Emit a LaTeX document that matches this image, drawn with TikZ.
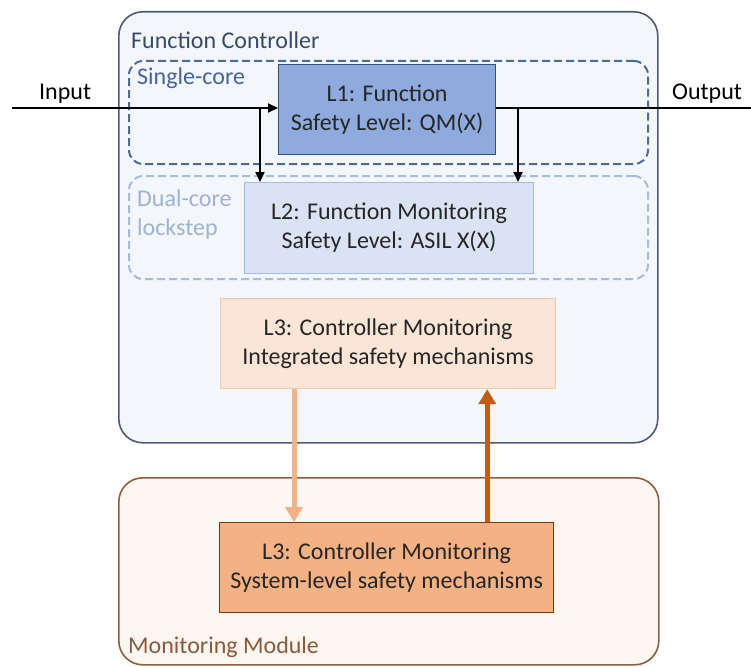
\documentclass[tikz,border=0pt]{standalone}
\usepackage{fontspec}
\setmainfont{Carlito}
\usetikzlibrary{arrows.meta,positioning}

\definecolor{fcfill}{HTML}{F3F6FB}
\definecolor{fcline}{HTML}{4F5B6E}
\definecolor{fctext}{HTML}{3A4A66}
\definecolor{singleline}{HTML}{4E6B98}
\definecolor{singletext}{HTML}{46659A}
\definecolor{dualline}{HTML}{A8BCDA}
\definecolor{dualtext}{HTML}{9DB3D6}
\definecolor{lonefill}{HTML}{8FAADC}
\definecolor{loneline}{HTML}{2F4F80}
\definecolor{ltwofill}{HTML}{DAE3F3}
\definecolor{ltwoline}{HTML}{A4BBE0}
\definecolor{lintfill}{HTML}{FBE5D6}
\definecolor{lintline}{HTML}{F6C9A8}
\definecolor{lsysfill}{HTML}{F4B183}
\definecolor{lsysline}{HTML}{7A3A10}
\definecolor{mmfill}{HTML}{FEF6F0}
\definecolor{mmline}{HTML}{8C5E42}
\definecolor{mmtext}{HTML}{8B5A3C}
\definecolor{lightorange}{HTML}{F4B183}
\definecolor{darkorange}{HTML}{C55A11}
\definecolor{textdark}{HTML}{262626}

\begin{document}
\begin{tikzpicture}[
		x=1pt, y=-1pt,
		container/.style={draw, rounded corners=24pt, line width=1.6pt, anchor=north west, inner sep=0pt},
		corebox/.style={draw, dash pattern=on 8pt off 4pt, rounded corners=14pt, line width=2pt, anchor=north west, inner sep=0pt},
		layer/.style={draw, align=center, line width=1.2pt, text=textdark, anchor=north west, inner sep=0pt, font=\fontsize{24}{29}\selectfont},
		tag/.style={anchor=north west, align=left, inner sep=0pt, font=\fontsize{24}{29}\selectfont},
		wire/.style={line width=2.2pt},
		arrow/.style={wire, -{Triangle[length=10pt, width=9pt]}},
		fatarrow/.style={-{Triangle[length=15pt, width=17pt]}, line width=5pt}
	]
		\useasboundingbox (0,0) rectangle (751,666);
		% containers
		\node[container, fill=fcfill, draw=fcline, minimum width=539pt, minimum height=431pt] (fc) at (118,11) {};
		\node[tag, text=fctext] (fclabel) at (131,32) {Function Controller};
		\node[container, fill=mmfill, draw=mmline, minimum width=540pt, minimum height=187pt] (mm) at (118,477) {};
		\node[tag, text=mmtext] (mmlabel) at (128,637) {Monitoring Module};
		\node[corebox, draw=singleline, minimum width=519pt, minimum height=103pt] (single) at (128,60) {};
		\node[tag, text=singletext] (singlelabel) at (137,68) {Single-core};
		\node[corebox, draw=dualline, minimum width=519pt, minimum height=103pt] (dual) at (128,175) {};
		\node[tag, text=dualtext] (duallabel) at (137,190) {Dual-core\\lockstep};
		% layers
		\node[layer, fill=lonefill, draw=loneline, minimum width=217pt, minimum height=90pt] (lone) at (278,64) {L1: Function\\Safety Level: QM(X)};
		\node[layer, fill=ltwofill, draw=ltwoline, minimum width=289pt, minimum height=91pt] (ltwo) at (244,182) {L2: Function Monitoring\\Safety Level: ASIL X(X)};
		\node[layer, fill=lintfill, draw=lintline, minimum width=335pt, minimum height=90pt] (lint) at (220,298) {L3: Controller Monitoring\\Integrated safety mechanisms};
		\node[layer, fill=lsysfill, draw=lsysline, minimum width=334pt, minimum height=90pt] (lsys) at (219,522) {L3: Controller Monitoring\\System-level safety mechanisms};
		% signal path
		\node[tag] (inlabel) at (39,84) {Input};
		\node[tag] (outlabel) at (672,84) {Output};
		\coordinate (in) at (12,108);
		\coordinate (out) at (751,108);
		\coordinate (tapin) at (260,0);
		\coordinate (tapout) at (518,0);
		\draw[arrow] (in) -- (in -| lone.west);
		\draw[wire] (lone.east |- out) -- (out);
		\draw[arrow] (tapin |- in) -- (tapin |- ltwo.north);
		\draw[arrow] (tapout |- out) -- (tapout |- ltwo.north);
		% controller monitoring links
		\draw[fatarrow, lightorange] ([xshift=74pt]lint.south west) -- ([xshift=74pt]lint.south west |- lsys.north);
		\draw[fatarrow, darkorange] ([xshift=-67pt]lsys.north east) -- ([xshift=-67pt]lsys.north east |- lint.south);
	\end{tikzpicture}
\end{document}
